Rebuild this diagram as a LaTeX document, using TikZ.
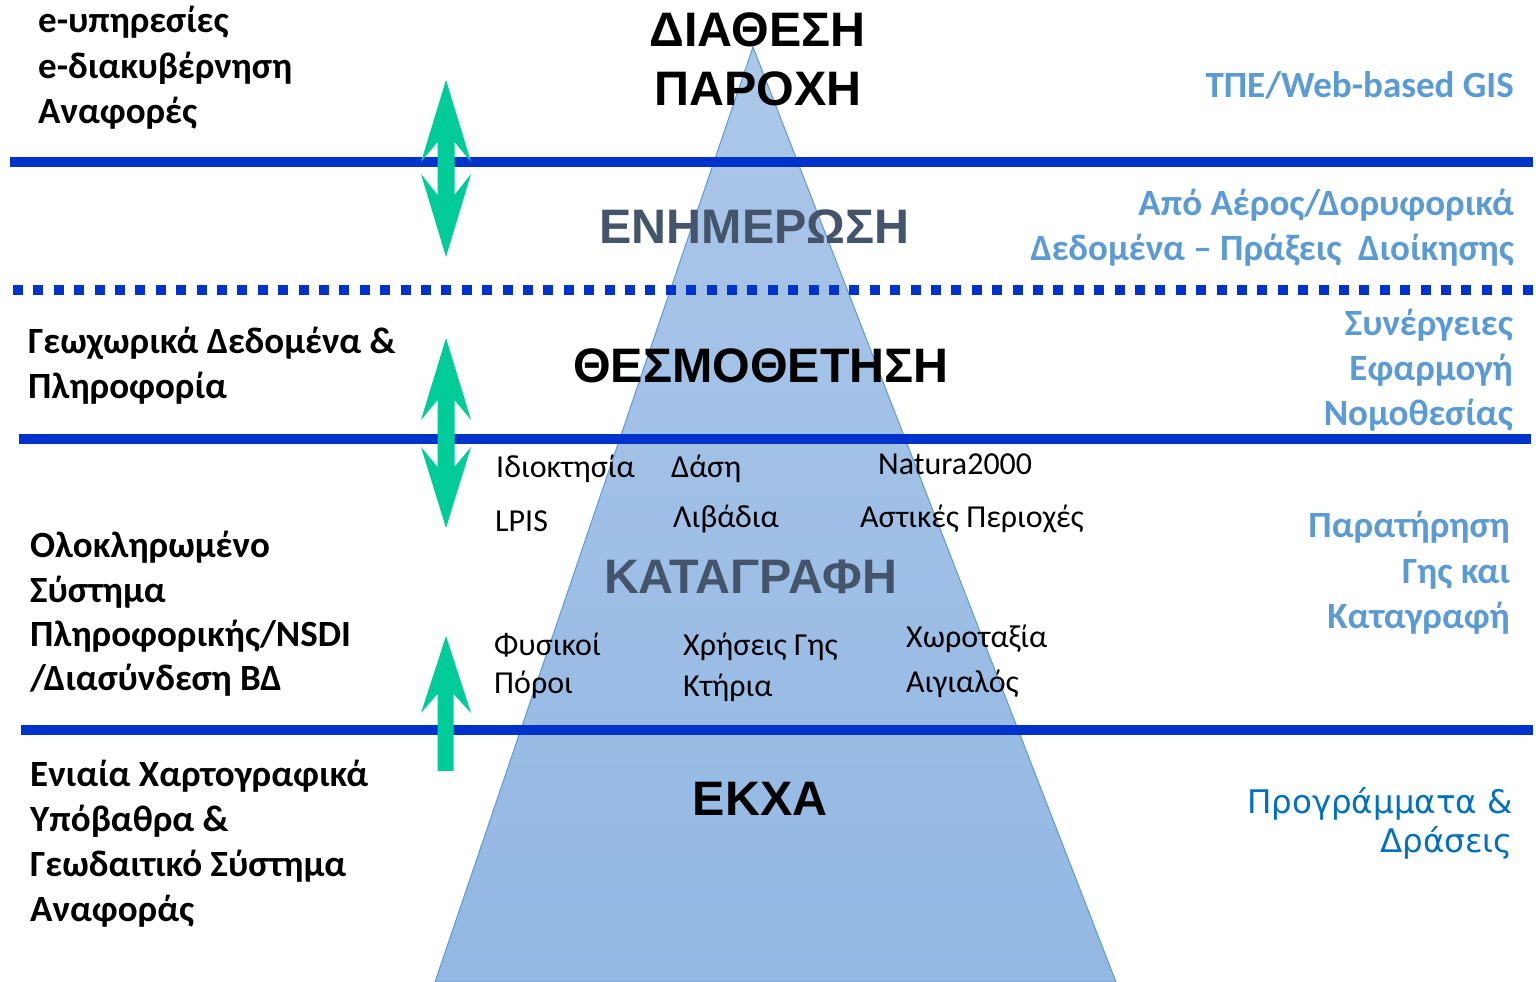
\documentclass[tikz,border=0pt]{standalone}
\usepackage{fontspec}
\setmainfont{Carlito}
\newfontfamily\arialfont{Liberation Sans}
\newfontfamily\verdfont{DejaVu Sans}
\definecolor{lineblue}{RGB}{0,51,204}
\definecolor{arrgreen}{RGB}{0,204,153}
\definecolor{skyb}{RGB}{91,155,213}
\definecolor{progblue}{RGB}{0,112,192}
\definecolor{slate}{RGB}{68,84,106}
\definecolor{tritop}{RGB}{172,199,233}
\definecolor{tribot}{RGB}{146,184,227}
\definecolor{triedge}{RGB}{91,155,213}
\begin{document}
\begin{tikzpicture}[x=1pt,y=-1pt,
  lt/.style={font=\fontsize{37}{42}\selectfont\bfseries, anchor=base west, inner sep=0pt},
  rt/.style={font=\fontsize{37}{42}\selectfont\bfseries, text=skyb, anchor=base east, inner sep=0pt},
  pt/.style={font=\verdfont\fontsize{32.5}{38}\selectfont, text=progblue, anchor=base east, inner sep=0pt},
  it/.style={font=\fontsize{32}{38}\selectfont, anchor=base west, inner sep=0pt},
  hd/.style={font=\arialfont\bfseries\fontsize{48.4}{56}\selectfont, anchor=base, inner sep=0pt},
  sep/.style={draw=lineblue, line width=10pt},
  dotsep/.style={draw=lineblue, line width=10pt, dash pattern=on 10pt off 10.4pt},
  garrow/.style={fill=arrgreen, draw=none}]
\useasboundingbox (0,0) rectangle (1536,982);
\fill[white] (0,0) rectangle (1536,982);
% pyramid
\shade[top color=tritop, bottom color=tribot, draw=triedge, line width=1pt]
  (753,47) -- (1116,982) -- (435,982) -- cycle;
% separator lines
\draw[sep] (10,162) -- (1533,162);
\draw[dotsep] (13,290) -- (1533,290);
\draw[sep] (19,438.5) -- (1531,438.5);
\draw[sep] (21,729.5) -- (1533,729.5);
% green arrows
\fill[garrow] (446,80) -- (471,162) -- (454.5,142) -- (454.5,195) -- (471,174) -- (446,257)
  -- (421,174) -- (437.5,195) -- (437.5,142) -- (421,162) -- cycle;
\fill[garrow] (446,338) -- (471,420) -- (454.5,400) -- (454.5,467) -- (471,447) -- (446,528)
  -- (421,447) -- (437.5,467) -- (437.5,400) -- (421,420) -- cycle;
\fill[garrow] (446,636) -- (471,713) -- (453.5,694) -- (453.5,771) -- (437.5,771)
  -- (437.5,694) -- (421,713) -- cycle;
% headings
\node[hd] (h1) at (757.5,47) {ΔΙΑΘΕΣΗ};
\node[hd] (h2) at (758,105) {ΠΑΡΟΧΗ};
\node[hd, text=slate] (h3) at (754.5,243) {ΕΝΗΜΕΡΩΣΗ};
\node[hd] (h4) at (761,382) {ΘΕΣΜΟΘΕΤΗΣΗ};
\node[hd, text=slate] (h5) at (750.5,593) {ΚΑΤΑΓΡΑΦΗ};
\node[hd] (h6) at (760,815) {ΕΚΧΑ};
% left texts
\node[lt] (l1) at (38,33) {e-υπηρεσίες};
\node[lt] (l2) at (38,78) {e-διακυβέρνηση};
\node[lt] (l3) at (38,123) {Αναφορές};
\node[lt] (l4) at (28,353) {Γεωχωρικά Δεδομένα \&};
\node[lt] (l5) at (28,398) {Πληροφορία};
\node[lt] (l6) at (30,557) {Ολοκληρωμένο};
\node[lt] (l7) at (30,602) {Σύστημα};
\node[lt] (l8) at (30,646) {Πληροφορικής/NSDI};
\node[lt] (l9) at (30,690) {/Διασύνδεση ΒΔ};
\node[lt] (l10) at (30,786) {Ενιαία Χαρτογραφικά};
\node[lt] (l11) at (30,831) {Υπόβαθρα \&};
\node[lt] (l12) at (30,876) {Γεωδαιτικό Σύστημα};
\node[lt] (l13) at (30,921) {Αναφοράς};
% right texts
\node[rt] (r1) at (1514,97) {ΤΠΕ/Web-based GIS};
\node[rt] (r2) at (1514,215) {Από Αέρος/Δορυφορικά};
\node[rt] (r3) at (1514,260) {Δεδομένα – Πράξεις\ \ Διοίκησης};
\node[rt] (r4) at (1513,335) {Συνέργειες};
\node[rt] (r5) at (1513,380) {Εφαρμογή};
\node[rt] (r6) at (1513,425) {Νομοθεσίας};
\node[rt] (r7) at (1510,537) {Παρατήρηση};
\node[rt] (r8) at (1510,583) {Γης και};
\node[rt] (r9) at (1510,628) {Καταγραφή};
\node[pt] (p1) at (1513,813) {Προγράμματα \&};
\node[pt] (p2) at (1513,852) {Δράσεις};
% inner texts
\node[it] (i1) at (496,477) {Ιδιοκτησία};
\node[it] (i2) at (671,477) {Δάση};
\node[it] (i3) at (878,474) {Natura2000};
\node[it] (i4) at (495,531) {LPIS};
\node[it] (i5) at (673,527) {Λιβάδια};
\node[it] (i6) at (860,527) {Αστικές Περιοχές};
\node[it] (i7) at (494,655) {Φυσικοί};
\node[it] (i8) at (494,693) {Πόροι};
\node[it] (i9) at (683,655) {Χρήσεις Γης};
\node[it] (i10) at (683,696) {Κτήρια};
\node[it] (i11) at (906,647) {Χωροταξία};
\node[it] (i12) at (906,692) {Αιγιαλός};
\end{tikzpicture}
\end{document}
